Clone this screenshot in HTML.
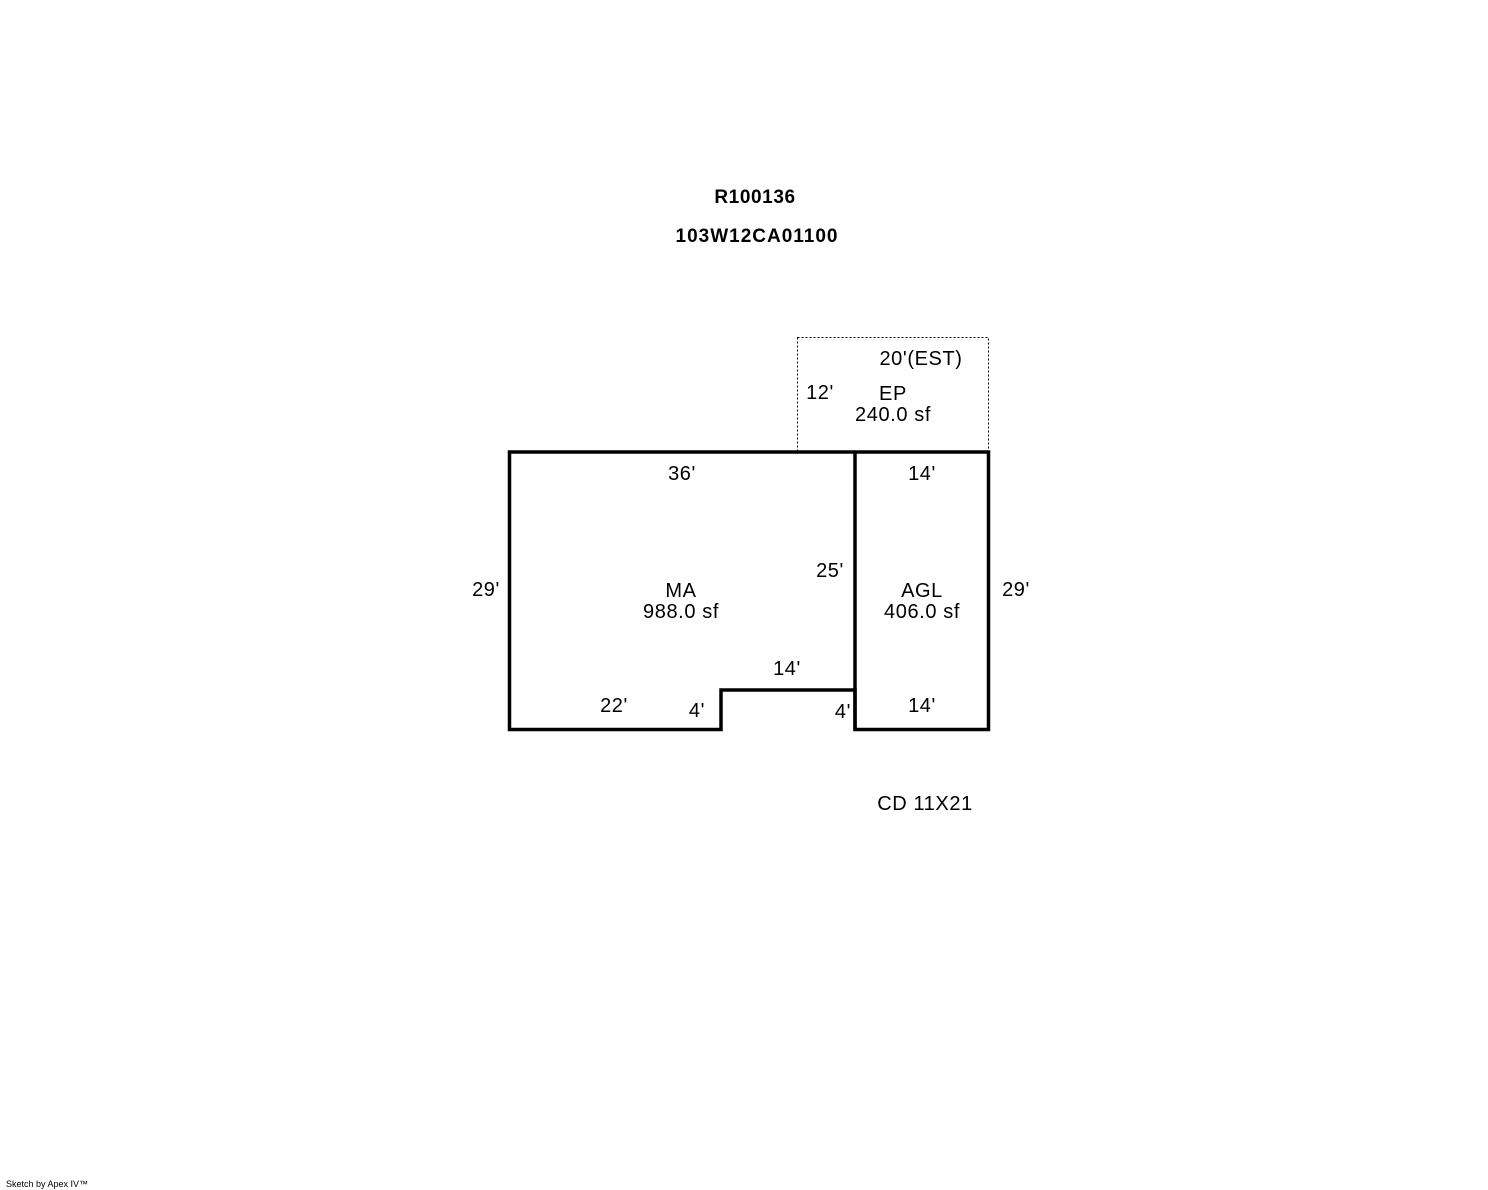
<!DOCTYPE html>
<html><head><style>html,body{margin:0;padding:0;background:#fff;}svg{display:block}</style></head>
<body>
<svg width="1488" height="1190" xmlns="http://www.w3.org/2000/svg" font-family="Liberation Sans, Arial, sans-serif" font-size="20" letter-spacing="0.6">
<rect x="797.5" y="337.5" width="191" height="114" fill="none" stroke="#000" stroke-width="1" stroke-dasharray="2,2"/>
<path d="M509.5 452 H988.5 V729.5 H855 V690 H721 V729.5 H509.5 Z" fill="none" stroke="#000" stroke-width="3.5"/>
<line x1="855" y1="452" x2="855" y2="729.5" stroke="#000" stroke-width="3.5"/>
<g fill="#000" text-anchor="middle">
<text x="755" y="203" font-weight="bold" font-size="19">R100136</text>
<text x="757" y="242" font-weight="bold" font-size="19" letter-spacing="1">103W12CA01100</text>
<text x="921" y="365">20'(EST)</text>
<text x="820" y="399">12'</text>
<text x="893" y="400">EP</text>
<text x="893" y="421">240.0 sf</text>
<text x="682" y="480">36'</text>
<text x="922" y="480">14'</text>
<text x="486" y="596">29'</text>
<text x="1016" y="596">29'</text>
<text x="830" y="577">25'</text>
<text x="681" y="597">MA</text>
<text x="681" y="618">988.0 sf</text>
<text x="922" y="597">AGL</text>
<text x="922" y="618">406.0 sf</text>
<text x="787" y="675">14'</text>
<text x="614" y="712">22'</text>
<text x="697" y="717">4'</text>
<text x="843" y="718">4'</text>
<text x="922" y="712">14'</text>
<text x="925" y="810">CD 11X21</text>
</g>
<text x="6" y="1187" font-size="9" letter-spacing="0" fill="#000">Sketch by Apex IV™</text>
</svg>
</body></html>
